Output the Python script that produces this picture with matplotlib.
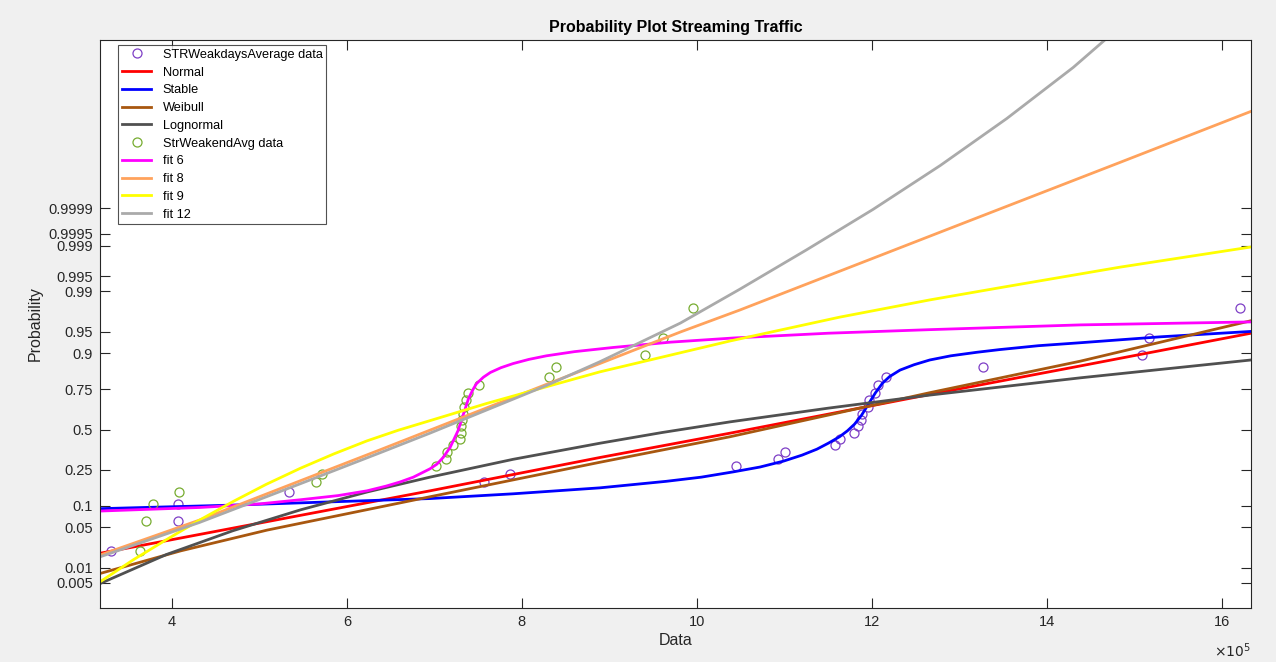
import matplotlib
matplotlib.use("Agg")
import matplotlib.pyplot as plt
from statistics import NormalDist

plt.rcParams["font.family"] = ["Liberation Sans", "DejaVu Sans"]

# sorted samples, x in units of 1e5
weekday_x = [3.30, 4.07, 4.07, 5.34, 7.57, 7.86, 10.45, 10.93, 11.01, 11.58,
             11.63, 11.80, 11.84, 11.87, 11.89, 11.95, 11.97, 12.03, 12.07,
             12.16, 13.27, 15.08, 15.17, 16.21]
weekend_x = [3.64, 3.71, 3.78, 4.08, 5.65, 5.72, 7.02, 7.13, 7.15, 7.21,
             7.29, 7.31, 7.31, 7.32, 7.33, 7.34, 7.36, 7.38, 7.51, 8.31,
             8.39, 9.41, 9.61, 9.96]
plot_prob = [0.0208, 0.0625, 0.1042, 0.1458, 0.1875, 0.2292, 0.2708, 0.3125,
             0.3542, 0.3958, 0.4375, 0.4792, 0.5208, 0.5625, 0.6042, 0.6458,
             0.6875, 0.7292, 0.7708, 0.8125, 0.8542, 0.8958, 0.9375, 0.9792]

# fitted cdfs, y as normal quantile
normal_x = [3.18, 6.95, 8.89, 10.38, 12.66, 14.38, 16.33]
normal_q = [-2.08, -1.03, -0.47, -0.06, 0.59, 1.07, 1.62]

stable_x = [3.18, 4.70, 6.95, 7.90, 8.89, 9.65, 10.05, 10.42, 10.72, 10.99,
            11.20, 11.37, 11.50, 11.63, 11.72, 11.80, 11.88, 11.96, 12.04,
            12.12, 12.20, 12.32, 12.48, 12.66, 12.90, 13.20, 13.46, 13.90,
            14.38, 15.30, 16.33]
stable_q = [-1.33, -1.27, -1.16, -1.08, -0.98, -0.87, -0.80, -0.71, -0.63, -0.53,
            -0.43, -0.33, -0.23, -0.12, -0.02, 0.09, 0.24, 0.43, 0.62,
            0.78, 0.89, 1.00, 1.09, 1.17, 1.24, 1.30, 1.345, 1.41,
            1.46, 1.56, 1.65]

weibull_x = [3.18, 4.10, 5.09, 6.95, 8.89, 10.38, 12.66, 14.38, 16.33]
weibull_q = [-2.42, -2.04, -1.69, -1.13, -0.55, -0.12, 0.62, 1.15, 1.83]

lognormal_x = [3.18, 3.94, 4.70, 5.47, 6.23, 6.95, 7.90, 8.89, 9.60, 10.38,
               11.50, 12.66, 14.38, 16.33]
lognormal_q = [-2.59, -2.10, -1.70, -1.35, -1.05, -0.80, -0.50, -0.23, -0.05,
               0.13, 0.36, 0.58, 0.87, 1.17]

fit6_x = [3.18, 4.32, 5.00, 5.47, 5.90, 6.23, 6.45, 6.61, 6.76, 6.95, 7.03,
          7.10, 7.18, 7.27, 7.33, 7.39, 7.44, 7.48, 7.56, 7.64, 7.76, 7.90,
          8.08, 8.28, 8.60, 9.04, 9.70, 10.42, 11.50, 12.66, 14.38, 16.33]
fit6_q = [-1.37, -1.31, -1.25, -1.18, -1.11, -1.03, -0.95, -0.88, -0.80, -0.66,
          -0.58, -0.47, -0.30, -0.02, 0.25, 0.52, 0.67, 0.77, 0.88, 0.96, 1.04,
          1.11, 1.18, 1.24, 1.31, 1.38, 1.47, 1.54, 1.62, 1.68, 1.76, 1.81]

fit8_x = [3.18, 4.32, 5.47, 6.38, 6.95, 8.28, 8.89, 9.81, 10.49, 13.06, 14.83, 16.33]
fit8_q = [-2.11, -1.52, -0.86, -0.34, -0.01, 0.76, 1.11, 1.64, 2.01, 3.48, 4.49, 5.35]

fit9_x = [3.18, 3.56, 3.94, 4.32, 4.70, 5.08, 5.47, 5.85, 6.23, 6.59, 6.95,
          7.60, 8.28, 8.89, 10.38, 11.63, 12.66, 13.48, 14.83, 16.33]
fit9_q = [-2.56, -2.19, -1.85, -1.52, -1.21, -0.92, -0.65, -0.41, -0.19, -0.01,
          0.15, 0.44, 0.72, 0.97, 1.49, 1.89, 2.18, 2.39, 2.73, 3.07]

fit12_x = [3.18, 4.32, 5.47, 6.38, 6.95, 8.28, 8.89, 9.81, 10.49, 11.25, 12.01,
           12.78, 13.54, 14.30, 14.66]
fit12_q = [-2.14, -1.56, -0.91, -0.39, -0.06, 0.74, 1.14, 1.79, 2.36, 3.02, 3.70,
           4.44, 5.23, 6.09, 6.55]

prob_ticks = [0.005, 0.01, 0.05, 0.1, 0.25, 0.5, 0.75, 0.9, 0.95, 0.99, 0.995,
              0.999, 0.9995, 0.9999]
prob_labels = ["0.005", "0.01", "0.05", "0.1", "0.25", "0.5", "0.75", "0.9",
               "0.95", "0.99", "0.995", "0.999", "0.9995", "0.9999"]
x_ticks = [4, 6, 8, 10, 12, 14, 16]

AX_COLOR = "#262626"
q = NormalDist().inv_cdf

fig = plt.figure(figsize=(12.76, 6.62), dpi=100, facecolor="#f0f0f0")
ax = fig.add_axes([100 / 1276, 54 / 662, 1151 / 1276, 568 / 662])

lw = 2.0
ax.plot(weekday_x, [q(p) for p in plot_prob], "o", mfc="none", mec="#7e3fc6",
        ms=6.5, mew=0.9, label="STRWeakdaysAverage data")
ax.plot(normal_x, normal_q, color="#ff0000", lw=lw, label="Normal")
ax.plot(stable_x, stable_q, color="#0000ff", lw=lw, label="Stable")
ax.plot(weibull_x, weibull_q, color="#a8570f", lw=lw, label="Weibull")
ax.plot(lognormal_x, lognormal_q, color="#505050", lw=lw, label="Lognormal")
ax.plot(weekend_x, [q(p) for p in plot_prob], "o", mfc="none", mec="#77ac30",
        ms=6.5, mew=0.9, label="StrWeakendAvg data")
ax.plot(fit6_x, fit6_q, color="#ff00ff", lw=lw, label="fit 6")
ax.plot(fit8_x, fit8_q, color="#ffa25c", lw=lw, label="fit 8")
ax.plot(fit9_x, fit9_q, color="#ffff00", lw=lw, label="fit 9")
ax.plot(fit12_x, fit12_q, color="#aaaaaa", lw=lw, label="fit 12")

ax.set_xlim(3.18, 16.33)
ax.set_ylim(-3.0, 6.55)
ax.set_xticks(x_ticks)
ax.set_xticklabels([str(t) for t in x_ticks])
ax.set_yticks([q(p) for p in prob_ticks])
ax.set_yticklabels(prob_labels)

ax.tick_params(direction="in", length=7, width=0.8, top=True, right=True,
               colors=AX_COLOR, labelsize=10.5, pad=5)
for s in ax.spines.values():
    s.set_color(AX_COLOR)
    s.set_linewidth(0.8)

ax.set_title("Probability Plot Streaming Traffic", fontsize=11.5,
             fontweight="bold", color="black", pad=6)
ax.set_xlabel("Data", fontsize=11.5, color=AX_COLOR, labelpad=3)
ax.set_ylabel("Probability", fontsize=11.5, color=AX_COLOR, labelpad=4)
fig.text(1251 / 1276, 1 - 651 / 662, r"$\times10^5$", ha="right", va="center",
         fontsize=10, color=AX_COLOR)

leg = ax.legend(loc="upper left", bbox_to_anchor=(18 / 1151, 1 - 5 / 568),
                borderaxespad=0, fancybox=False, fontsize=9.2, handlelength=2.3,
                labelspacing=0.45, borderpad=0.3, handletextpad=0.9)
leg.get_frame().set_edgecolor(AX_COLOR)
leg.get_frame().set_linewidth(0.8)

fig.savefig("out.png", dpi=100, facecolor=fig.get_facecolor())
